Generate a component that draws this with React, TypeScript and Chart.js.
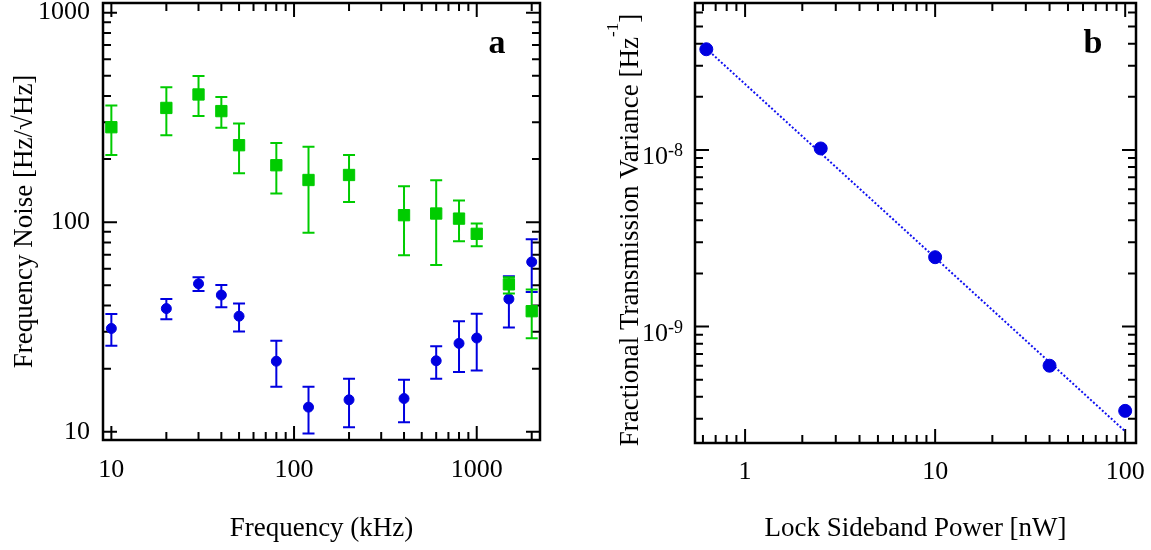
import React, { useEffect, useRef } from 'react';
import { Chart, registerables } from 'chart.js';

Chart.register(...registerables);

const SERIF = '"Liberation Serif", "Times New Roman", Times, serif';
const GREEN = '#00cc00';
const BLUE = '#0000e0';

// ---- Panel a: frequency noise ----
const freqKHz = [10, 20, 30, 40, 50, 80, 120, 200, 400, 600, 800, 1000, 1500, 2000];
const greenNoise = [284, 351, 407, 339, 233, 187, 159, 168, 108, 110, 104, 88, 50.5, 37.6];
const greenLow = [209, 260, 321, 282, 171, 137, 89, 125, 69.5, 62.4, 81, 76.7, 45.7, 27.9];
const greenHigh = [361, 441, 498, 396, 296, 239, 229, 209, 148.5, 158.6, 127, 98.6, 54.6, 47.7];
const blueNoise = [31.1, 38.7, 50.8, 44.9, 35.6, 21.7, 13.1, 14.2, 14.4, 21.8, 26.4, 28.0, 43.0, 64.6];
const blueLow = [25.7, 34.4, 46.9, 39.3, 30.1, 16.4, 9.8, 10.5, 11.1, 17.9, 19.3, 19.6, 31.4, 46.4];
const blueHigh = [36.5, 43.0, 54.6, 50.2, 40.9, 27.2, 16.4, 17.9, 17.7, 25.6, 33.7, 36.6, 55.2, 83];
const aXTicks = [10, 100, 1000];
const aYTicks = [10, 100, 1000];
const aXRange = [9, 2220];
const aYRange = [9.13, 1112];

// ---- Panel b: transmission variance ----
const powerNW = [0.625, 2.5, 10, 40, 100];
const variance = [3.72e-8, 1.02e-8, 2.47e-9, 6.0e-10, 3.33e-10];
const fitPower = [0.625, 100];
const fitVariance = [3.75e-8, 2.55e-10];
const bXTicks = [1, 10, 100];
const bYTicks = [1e-9, 1e-8];
const bXRange = [0.545, 114];
const bYRange = [2.19e-10, 6.8e-8];

function logTickPositions(min: number, max: number) {
  const out: { v: number; major: boolean }[] = [];
  const e0 = Math.floor(Math.log10(min));
  const e1 = Math.ceil(Math.log10(max));
  for (let e = e0; e <= e1; e++) {
    for (let m = 1; m < 10; m++) {
      const v = m * Math.pow(10, e);
      if (v >= min && v <= max) out.push({ v, major: m === 1 });
    }
  }
  return out;
}

const framePlugin = {
  id: 'frame',
  beforeDatasetsDraw(chart: any) {
    const { ctx, chartArea: a, scales } = chart;
    const xs = scales.x;
    const ys = scales.y;
    ctx.save();
    ctx.strokeStyle = '#000';
    ctx.lineWidth = 2;
    ctx.beginPath();
    for (const t of logTickPositions(xs.min, xs.max)) {
      const px = xs.getPixelForValue(t.v);
      const L = t.major ? 14 : 8;
      ctx.moveTo(px, a.bottom);
      ctx.lineTo(px, a.bottom - L);
      ctx.moveTo(px, a.top);
      ctx.lineTo(px, a.top + L);
    }
    for (const t of logTickPositions(ys.min, ys.max)) {
      const py = ys.getPixelForValue(t.v);
      const L = t.major ? 14 : 8;
      ctx.moveTo(a.left, py);
      ctx.lineTo(a.left + L, py);
      ctx.moveTo(a.right, py);
      ctx.lineTo(a.right - L, py);
    }
    ctx.stroke();
    ctx.lineWidth = 2.5;
    ctx.strokeRect(a.left, a.top, a.right - a.left, a.bottom - a.top);
    ctx.restore();
  },
};

const errorBarPlugin = {
  id: 'errbars',
  beforeDatasetDraw(chart: any, args: any) {
    const ds = chart.data.datasets[args.index];
    if (!ds.errLow) return;
    const { ctx, scales } = chart;
    const xs = scales.x;
    const ys = scales.y;
    ctx.save();
    ctx.strokeStyle = ds.borderColor;
    ctx.lineWidth = 2;
    ctx.beginPath();
    ds.data.forEach((p: any, i: number) => {
      const px = xs.getPixelForValue(p.x);
      const y1 = ys.getPixelForValue(ds.errLow[i]);
      const y2 = ys.getPixelForValue(ds.errHigh[i]);
      ctx.moveTo(px, y1);
      ctx.lineTo(px, y2);
      ctx.moveTo(px - 6, y1);
      ctx.lineTo(px + 6, y1);
      ctx.moveTo(px - 6, y2);
      ctx.lineTo(px + 6, y2);
    });
    ctx.stroke();
    ctx.restore();
  },
};

const annotPlugin = {
  id: 'annot',
  afterDraw(chart: any, _args: any, opts: any) {
    const { ctx, chartArea: a, scales } = chart;
    ctx.save();
    ctx.fillStyle = '#000';
    if (opts.panel) {
      ctx.font = `bold 34px ${SERIF}`;
      ctx.textAlign = 'center';
      ctx.textBaseline = 'alphabetic';
      ctx.fillText(opts.panel, a.right - 43, a.top + 50);
    }
    if (opts.expTicks) {
      const ys = scales.y;
      ctx.textBaseline = 'alphabetic';
      ctx.textAlign = 'right';
      for (const v of opts.expTicks as number[]) {
        const py = ys.getPixelForValue(v);
        const exp = String(Math.round(Math.log10(v)));
        const xr = a.left - 12;
        ctx.font = `18px ${SERIF}`;
        const sw = ctx.measureText(exp).width;
        ctx.fillText(exp, xr, py + 6);
        ctx.font = `26px ${SERIF}`;
        ctx.fillText('10', xr - sw, py + 14);
      }
    }
    if (opts.yTitle) {
      const { main, sup, tail, x } = opts.yTitle;
      const cy = (a.top + a.bottom) / 2 + 7;
      ctx.translate(x, cy);
      ctx.rotate(-Math.PI / 2);
      ctx.textAlign = 'left';
      ctx.textBaseline = 'alphabetic';
      ctx.font = `27px ${SERIF}`;
      const w1 = ctx.measureText(main).width;
      const w3 = ctx.measureText(tail).width;
      ctx.font = `17px ${SERIF}`;
      const w2 = ctx.measureText(sup).width;
      const x0 = -(w1 + w2 + w3) / 2;
      ctx.font = `27px ${SERIF}`;
      ctx.fillText(main, x0, 0);
      ctx.fillText(tail, x0 + w1 + w2, 0);
      ctx.font = `17px ${SERIF}`;
      ctx.fillText(sup, x0 + w1, -20);
    }
    ctx.restore();
  },
};

function logAxis(range: number[], ticks: number[], size: { width?: number; height?: number }, extra: any) {
  return {
    type: 'logarithmic',
    min: range[0],
    max: range[1],
    afterFit: (s: any) => {
      if (size.width !== undefined) s.width = size.width;
      if (size.height !== undefined) s.height = size.height;
      s.paddingTop = 0;
      s.paddingBottom = 0;
      s.paddingLeft = 0;
      s.paddingRight = 0;
    },
    afterBuildTicks: (s: any) => {
      s.ticks = ticks.map((v) => ({ value: v }));
    },
    grid: { display: false, drawTicks: false },
    border: { display: false },
    ...extra,
  };
}

export default function App() {
  const refA = useRef<HTMLCanvasElement>(null);
  const refB = useRef<HTMLCanvasElement>(null);

  useEffect(() => {
    const tickFont = { family: SERIF, size: 26 };
    const titleFont = { family: SERIF, size: 27 };

    const chartA = new Chart(refA.current as HTMLCanvasElement, {
      type: 'scatter',
      data: {
        datasets: [
          {
            label: 'green',
            data: freqKHz.map((x, i) => ({ x, y: greenNoise[i] })),
            errLow: greenLow,
            errHigh: greenHigh,
            pointStyle: 'rect',
            pointRadius: 8,
            backgroundColor: GREEN,
            borderColor: GREEN,
            borderWidth: 1,
          } as any,
          {
            label: 'blue',
            data: freqKHz.map((x, i) => ({ x, y: blueNoise[i] })),
            errLow: blueLow,
            errHigh: blueHigh,
            pointStyle: 'circle',
            pointRadius: 5,
            backgroundColor: BLUE,
            borderColor: BLUE,
            borderWidth: 1,
          } as any,
        ],
      },
      options: {
        responsive: false,
        animation: false,
        events: [],
        layout: { autoPadding: false, padding: { left: 0, top: 3, right: 35, bottom: 0 } },
        plugins: {
          legend: { display: false },
          tooltip: { enabled: false },
          annot: { panel: 'a' },
        } as any,
        scales: {
          x: logAxis(aXRange, aXTicks, { height: 110 }, {
            ticks: { color: '#000', font: tickFont, padding: 15, maxRotation: 0, autoSkip: false, callback: (v: any) => String(v) },
            title: { display: true, text: 'Frequency (kHz)', color: '#000', font: titleFont, padding: { top: 0, bottom: 5 } },
          }),
          y: logAxis(aYRange, aYTicks, { width: 103 }, {
            ticks: { color: '#000', font: tickFont, padding: 13, autoSkip: false, callback: (v: any) => String(v) },
            title: { display: true, text: 'Frequency Noise [Hz/\u221AHz]', color: '#000', font: titleFont, padding: { top: 9, bottom: 0 } },
          }),
        } as any,
      },
      plugins: [framePlugin, errorBarPlugin, annotPlugin],
    } as any);

    const chartB = new Chart(refB.current as HTMLCanvasElement, {
      type: 'scatter',
      data: {
        datasets: [
          {
            label: 'variance',
            data: powerNW.map((x, i) => ({ x, y: variance[i] })),
            pointStyle: 'circle',
            pointRadius: 6.5,
            backgroundColor: BLUE,
            borderColor: BLUE,
            borderWidth: 1,
          },
          {
            label: 'fit',
            data: fitPower.map((x, i) => ({ x, y: fitVariance[i] })),
            showLine: true,
            pointRadius: 0,
            borderColor: '#1010f0',
            borderWidth: 2,
            borderDash: [2, 2],
          },
        ],
      },
      options: {
        responsive: false,
        animation: false,
        events: [],
        layout: { autoPadding: false, padding: { left: 0, top: 3, right: 15, bottom: 0 } },
        plugins: {
          legend: { display: false },
          tooltip: { enabled: false },
          annot: {
            panel: 'b',
            expTicks: bYTicks,
            yTitle: { main: 'Fractional Transmission Variance [Hz', sup: '-1', tail: ']', x: 63 },
          },
        } as any,
        scales: {
          x: logAxis(bXRange, bXTicks, { height: 107 }, {
            ticks: { color: '#000', font: tickFont, padding: 14, maxRotation: 0, autoSkip: false, callback: (v: any) => String(v) },
            title: { display: true, text: 'Lock Sideband Power [nW]', color: '#000', font: titleFont, padding: { top: 0, bottom: 5 } },
          }),
          y: logAxis(bYRange, bYTicks, { width: 120 }, {
            ticks: { display: false },
          }),
        } as any,
      },
      plugins: [framePlugin, annotPlugin],
    } as any);

    return () => {
      chartA.destroy();
      chartB.destroy();
    };
  }, []);

  return (
    <div style={{ position: 'absolute', left: 0, top: 0, width: 1151, height: 550, background: '#fff' }}>
      <canvas ref={refA} width={575} height={550} style={{ position: 'absolute', left: 0, top: 0, display: 'block' }} />
      <canvas ref={refB} width={576} height={550} style={{ position: 'absolute', left: 575, top: 0, display: 'block' }} />
    </div>
  );
}
